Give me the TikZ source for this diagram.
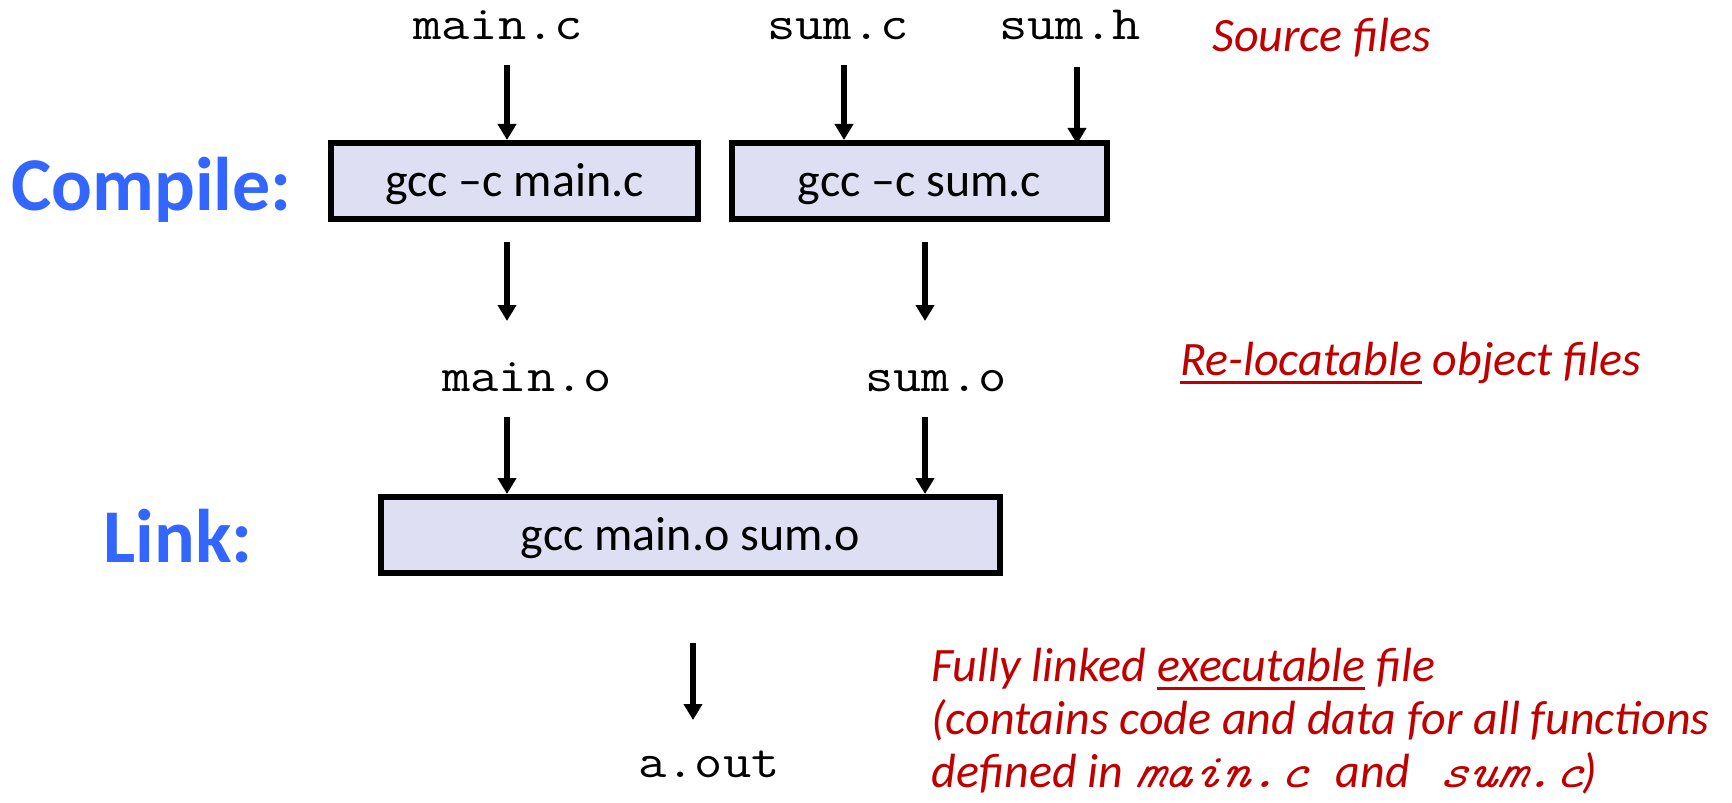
\documentclass[tikz,border=0pt]{standalone}
\usepackage{fontspec}
\setmainfont{Carlito}
\newfontfamily\codefont[FakeStretch=1.1429]{Latin Modern Mono}
\newfontfamily\codefontsl[FakeStretch=1.1429,FakeSlant=0.2]{Latin Modern Mono}
\usetikzlibrary{arrows.meta}
\definecolor{notered}{RGB}{192,0,0}
\definecolor{stageblue}{RGB}{51,102,255}
\definecolor{cmdfill}{RGB}{222,223,243}
% underline drawn as a rule below the baseline
\newcommand\noteul[1]{\setbox0=\hbox{#1}\rlap{\rule[-4.6pt]{\wd0}{1.5pt}}\box0\relax}
\tikzset{
  code/.style={font=\codefont\fontsize{24}{28}\selectfont, inner sep=0pt, anchor=base},
  cmd/.style={draw, line width=3pt, fill=cmdfill, inner sep=0pt,
    minimum height=38pt, font=\fontsize{24}{28}\selectfont,
    execute at begin node={\vphantom{ig}\rule{0pt}{19.5pt}}},
  stage/.style={font=\bfseries\fontsize{38}{42}\selectfont, text=stageblue,
    inner sep=0pt, anchor=base west},
  note/.style={font=\itshape\fontsize{24}{28}\selectfont, text=notered,
    inner sep=0pt, anchor=base west},
  flow/.style={-{Triangle[length=8pt,width=9pt]}, line width=2.75pt},
}
\begin{document}
\begin{tikzpicture}[x=0.5pt,y=-0.5pt]
\fill[white] (0,0) rectangle (1732,802);
\useasboundingbox (0,0) rectangle (1732,802);

% arrow columns
\coordinate (colA) at (507,0);
\coordinate (colB) at (844,0);
\coordinate (colC) at (1077,0);
\coordinate (colD) at (925,0);
\coordinate (colE) at (693,0);

% source files
\node[code] (mainc) at (498,40) {main.c};
\node[code] (sumc)  at (838,40) {sum.c};
\node[code] (sumh)  at (1070,40) {sum.h};
\node[note] (srcnote) at (1212,52) {Source files};

% compile step
\node[stage] (compile) at (11,211) {Compile:};
\node[cmd, minimum width=183.5pt] (cc1) at (514.5,181) {gcc –c main.c};
\node[cmd, minimum width=187.5pt] (cc2) at (919.5,181) {gcc –c sum.c};

% object files
\node[code] (maino) at (527,391) {main.o};
\node[code] (sumo)  at (936,391) {sum.o};
\node[note] (objnote) at (1180,375) {\noteul{Re-locatable} object files};

% link step
\node[stage] (link) at (103,562) {Link:};
\node[cmd, minimum width=309.5pt] (ld) at (690.5,535) {gcc main.o sum.o};

% executable
\node[code] (aout) at (709,777) {a.out};
\node[note] (exe1) at (931,681) {Fully linked \noteul{executable} file};
\node[note] (exe2) at (931,734) {(contains code and data for all functions};
\node[note] (exe3) at (931,787) {defined in {\codefontsl main.c\ }and{\codefontsl\ sum.c})};

% connectors
\draw[flow] ([yshift=-12.5pt]mainc.base -| colA) -- (cc1.north -| colA);
\draw[flow] ([yshift=-12.5pt]sumc.base -| colB) -- (cc2.north -| colB);
\draw[flow] ([yshift=-13.5pt]sumh.base -| colC) -- ([yshift=-2pt]cc2.north -| colC);
\draw[flow] ([yshift=-10pt]cc1.south -| colA) -- ([yshift=35pt]maino.base -| colA);
\draw[flow] ([yshift=-10pt]cc2.south -| colD) -- ([yshift=35pt]sumo.base -| colD);
\draw[flow] ([yshift=-13pt]maino.base -| colA) -- (ld.north -| colA);
\draw[flow] ([yshift=-13pt]sumo.base -| colD) -- (ld.north -| colD);
\draw[flow] ([yshift=-33.5pt]ld.south -| colE) -- ([yshift=28.5pt]aout.base -| colE);
\end{tikzpicture}
\end{document}
